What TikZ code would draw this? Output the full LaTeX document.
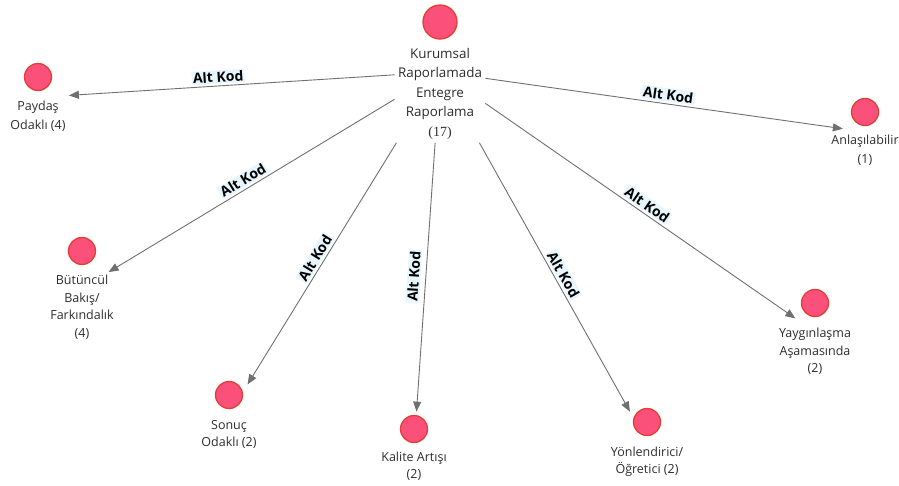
\documentclass[tikz,border=0pt]{standalone}
\usepackage{fontspec}
\setmainfont{Open Sans}
\newfontfamily\numfont{Liberation Serif}
\usetikzlibrary{arrows.meta,fit}

\definecolor{dotfill}{RGB}{250,80,122}
\definecolor{dotline}{RGB}{226,62,52}
\definecolor{linkgray}{RGB}{112,112,112}
\definecolor{tagbg}{RGB}{230,246,252}
\definecolor{inkgray}{RGB}{45,45,45}

\begin{document}
\begin{tikzpicture}[x=1pt,y=-1pt,
  dot/.style={circle,fill=dotfill,draw=dotline,line width=1.3pt,minimum size=27pt,inner sep=0pt},
  hub/.style={dot,minimum size=34pt},
  caption/.style={anchor=north,inner sep=0pt,align=center,text=inkgray,
    font=\fontsize{12.5}{18.5}\selectfont},
  group/.style={inner sep=3pt},
  link/.style={draw=linkgray,line width=0.9pt,-{Triangle[length=10pt,width=8pt]}},
  tag/.style={fill=tagbg,inner sep=1.2pt,text=black,
    font=\bfseries\fontsize{14}{14}\selectfont,sloped,above=2pt}
]
\useasboundingbox (0,0) rectangle (899,485);

% hub
\node[hub] (c0) at (440,22) {};
\node[caption,font=\fontsize{13.4}{19.5}\selectfont] (t0) at (440,48)
  {Kurumsal\\Raporlamada\\Entegre\\Raporlama\\{\numfont\fontsize{14}{15}\selectfont(17)}};
\node[group,fit=(c0)(t0)] (src) {};

% leaves
\node[dot] (c1) at (38,77) {};
\node[caption,font=\fontsize{12.5}{19}\selectfont] (t1) at (38,101) {Paydaş\\Odaklı (4)};
\node[group,fit=(c1)(t1)] (l1) {};

\node[dot] (c2) at (865,112) {};
\node[caption,font=\fontsize{12.5}{19}\selectfont] (t2) at (865,135) {Anlaşılabilir\\(1)};
\node[group,fit=(c2)(t2)] (l2) {};

\node[dot] (c3) at (82,251) {};
\node[caption,font=\fontsize{12.5}{17.5}\selectfont] (t3) at (82,275) {Bütüncül\\Bakış/\\Farkındalık\\(4)};
\node[group,fit=(c3)(t3)] (l3) {};

\node[dot] (c4) at (229,395) {};
\node[caption,font=\fontsize{12.5}{17}\selectfont] (t4) at (229,420) {Sonuç\\Odaklı (2)};
\node[group,fit=(c4)(t4)] (l4) {};

\node[dot] (c5) at (414,429) {};
\node[caption,font=\fontsize{12.5}{16.5}\selectfont] (t5) at (414,452) {Kalite Artışı\\(2)};
\node[group,fit=(c5)(t5)] (l5) {};

\node[dot] (c6) at (647,422) {};
\node[caption,font=\fontsize{12.5}{17}\selectfont] (t6) at (647,447) {Yönlendirici/\\Öğretici (2)};
\node[group,fit=(c6)(t6)] (l6) {};

\node[dot] (c7) at (815,303) {};
\node[caption,font=\fontsize{12.5}{17.5}\selectfont] (t7) at (815,328) {Yaygınlaşma\\Aşamasında\\(2)};
\node[group,fit=(c7)(t7)] (l7) {};

% links
\draw[link] (src) -- (l1) node[tag,pos=0.54] {Alt Kod};
\draw[link,shorten >=-15pt] (src) -- (l2) node[tag,pos=0.53] {Alt Kod};
\draw[link,shorten >=-10pt] (src) -- (l3) node[tag,pos=0.53] {Alt Kod};
\draw[link,shorten >=-8pt] (src) -- (l4) node[tag,pos=0.51] {Alt Kod};
\draw[link] (src) -- (l5) node[tag,pos=0.5,above=3pt] {Alt Kod};
\draw[link,shorten >=-8pt] (src) -- (l6) node[tag,pos=0.52] {Alt Kod};
\draw[link,shorten >=-24pt] (src) -- (l7) node[tag,pos=0.54] {Alt Kod};
\end{tikzpicture}
\end{document}
